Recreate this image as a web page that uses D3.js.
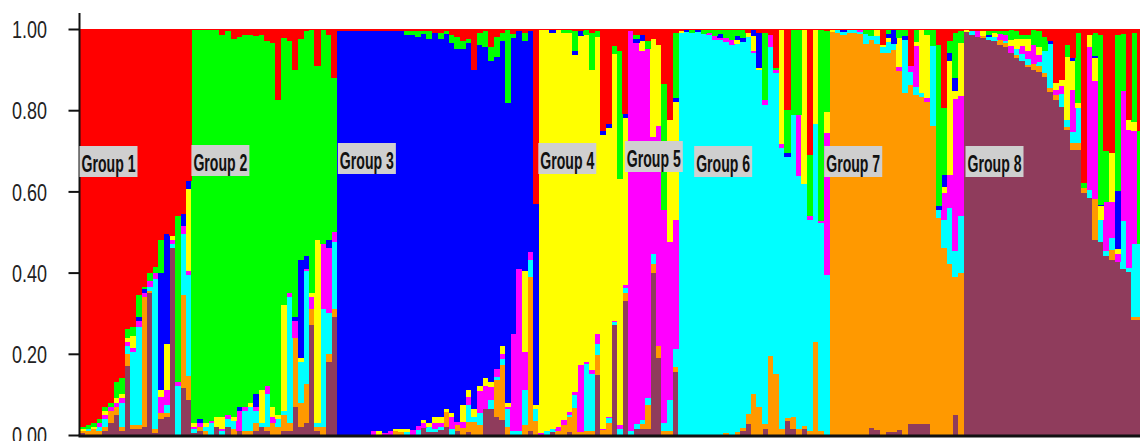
<!DOCTYPE html>
<html>
<head>
<meta charset="utf-8">
<script src="https://cdn.jsdelivr.net/npm/d3@7"></script>
<style>
  html, body { margin: 0; padding: 0; background: #fff; }
  svg { display: block; }
</style>
</head>
<body>
<div id="chart"></div>
<script>
// groups of individuals, left to right
const groupNames = ["Group 1", "Group 2", "Group 3", "Group 4", "Group 5", "Group 6", "Group 7", "Group 8"];
const groupSizes = [20, 26, 36, 16, 9, 27, 24, 32];
const yTicks = [0, 0.2, 0.4, 0.6, 0.8, 1.0];

// membership (%) of every individual in each cluster, one line per group
const red = [
  98,97.5,97,96,93,92,87,86,74,73.5,65.5,63.5,60,58.5,52,50.5,51,46,45.5,37.5,
  0.3,0.3,0.3,0.3,0.3,1.5,0.5,2.5,2,1.5,1.5,1.8,1.5,3,3.5,17.5,2.2,3,10,2.5,0.5,0.3,9,0.3,1.5,12,
  0.5,0.5,0.5,0.5,0.5,0.5,0.5,0.5,0.5,0.5,0.5,0.5,0.5,0.5,0.5,0.5,0.5,1,1,0.5,1.5,2,3,2.5,10,1,0.5,4.5,2,1,0.3,1.2,0.5,1,0.5,43,
  0.3,0.3,0.3,0.3,0.3,0.3,0.5,0.5,0.3,1,0.5,25,23.5,4.2,5.5,21,
  0.5,1.5,1.5,3,2.5,4,13.6,22.5,1,
  0.5,0.3,0.3,0.3,0.3,0.3,0.3,0.3,0.3,0.3,0.3,0.3,1,0.3,1,1,1.5,9.5,0.3,20,0.3,0.3,0.3,31,0.3,0.3,0.5,
  0.3,0.3,0.3,0.3,0.3,0.3,0.3,0.3,0.3,4,0.3,0.3,0.3,0.3,9,0.3,0.3,0.3,0.3,4,19.5,3,1,0.5,
  0.3,0.5,0.5,0.5,0.5,0.5,0.5,0.5,0.3,0.5,1.5,1.5,0.3,0.5,2,3,13.4,12.6,4,7.2,1,38,1.5,1,1.5,30,30.6,1.5,1.2,22.4,1,25
];
const green = [
  0.5,1,1,1,1,1,4,4,2,2,5.5,0.5,2,1.5,8,0,0,41,0,0,
  96.7,95.7,96.7,96.2,95.2,94,94.5,93,91,91.5,90.5,88.2,87.5,85,89.5,77.5,65.8,62,61,54.5,55.5,64.7,43,52.7,50.5,38,
  0,0,0,0,0,0,0,0,0,0,0,0,1,1,1.5,0.8,2,0,1.5,0.8,2,3,2,1,0,3,4,3.5,5,2,18,1,0,2,0,0,
  0,0,0,0,0.8,0.8,5,0,1.2,9,1.5,0,0,2,31.5,0,
  0,1,0,2,0,0,31,0,16,
  0,0,0.8,0,1,0.8,1.5,1,2,2.5,1.5,2,0,0,0,16.5,0,0.5,0,10.5,21,21,0,15,0,47,20,
  0,0,0,0,0,0,1,1.5,0,0,1,0,2,1.5,0,3,0,1.2,4,39.5,16.5,3,11,3,
  0,0,0,0,1,0.5,0.7,1,2.5,2,1,1,3.7,4,3.3,0,0,0,2.9,0,17.2,1.2,0,5.7,41.8,12.7,0,38.4,14,0,22,28
];
const blue = [
  0,0,0,0,0,0,0,0,0,0,1,1,0,0,29,27,0,0,3,2,
  0,1,0,0,0,0,0,0,1,0,0,3,0,0,0,0,0,0,1,24,3,0,0,0,2,0,
  99.5,99.5,99.5,99.5,99.5,99.5,98.5,98.5,99,98.5,98,98,97,97.3,95.7,95,94.5,94.5,93,92.2,91.2,91.7,87.6,85.5,83.5,84,81.5,79,76.7,75,73.9,72.8,58.5,56.5,54.5,49.5,
  0,0,0.6,0,0,0,0.8,1.2,0,0,0,1,1,0,0,1,
  0,1,1.5,0,0,0,0,0,1,
  0,0.5,0,0.5,0,0,0,1,0,0,1,1,0,1.5,8.5,0,0,0,0,1,0,0,0,0,0,0,0,
  0,0,0.5,0,0,0,0,0,0,0,0.8,3.3,0,1,0,0,0,0,0,1,2.9,2,3.3,0,
  0,0,0,0,0.4,0,0,0,0,0,0,0,0,0,0,0.8,0,0,0,0.8,0,0,0,0.4,0.4,0,0,14.4,0,0,0,0
];
const yellow = [
  0.5,0,0.5,0,1,0,1,1,1,3,0,0,0,0,1.6,11.5,1,0,0,20,
  1,0,1,0,2.5,3,0,1,0,0,1,0,8,0,2.5,1,26,0,0,1,0,1,45,0,0,0,
  0,0,0,0,0,0,0,1,0,0,0.5,0.7,0.7,0,0,0.8,1,1.5,1.5,0.8,0.8,0,4.1,1.6,2,1.2,2,1.2,0,2,0.8,0,0,20,0,1,
  99.2,98.7,97.5,97.7,95.2,93.2,83,81,80.5,74,73.2,72.4,71,65.6,60.6,41,
  0,0,2.5,0,24,20,0,30,29,
  0.5,0,0,0,0,0,0,0,0,0,0.8,0,1,3.5,0.5,0,0,0,28,0,0,0,38,0,23,0,5,
  0.5,0,0,0,0,0,0,0,1.5,0.5,1.2,0,7,0,0,1,15.5,15.5,0,0,1.6,28,2,13,
  0.4,0,0,1.3,0,1,0,0,1.5,2.5,1.7,3,0,2,0,0,1.6,1.5,15.6,7,1.2,0,2.9,5.7,3.3,0,11.9,1.2,0,2.5,2,0
];
const magenta = [
  0,0,0,1,1,1,1,1,1,1,1.5,1,1.5,1.5,4,3.5,1,1,2,1,
  0.5,1,0,0.5,0,0.5,1,0,5,1,0,1,0,2,1.5,0,0,1,4,0,0.5,3,0,16,16,2.5,
  0,0,0,0,0,0,1,0,0.5,1,0,0,0,1.2,1.1,1.2,0,1.4,1,0,2.9,0.8,1.6,2,0,5.3,5.7,3.3,2,1.2,0.5,24,40,9.5,2,0,
  0.5,0,0,1,1.2,0.8,0.8,16.5,0.5,1,2.5,0.4,0.4,0.4,0.8,0.8,
  98.5,93.7,90.7,85.9,29,54,52.4,39,31.7,
  0,0,0,0,0,0.5,0.8,0.5,1,1.2,0,0,0,0.5,0,1.2,3,0.8,1,0,0,15,0,1,0,0.5,35,
  0,0,0,0,0,0.5,0,0,0,0,0,0,1,0,1.5,10,0,1,0,0,6.5,8,37.5,29.5,
  0,0,1.4,0,0,0,1.5,1.5,1.5,0,2,2,4.5,1.7,0,0,1.2,2,0,10.3,0,0,35.3,29,0,11.9,9,1.8,32,34,28,0
];
const cyan = [
  0,0.5,0,1,2,0,0,6,2,18,24,0,1,37,0,2,1,12,15,25,
  1,0,1,3,0,1,2,2,0,5,6,3,1,8,0,2,1,31,0,10,28,0,1,29,10,16.5,
  0,0,0,0,0,0,0,0,0,0,0,0,0.8,0,1.2,0,1.2,0.8,0.8,0,1.6,0,0,4.1,1.2,3,0,2,0.8,1.6,4.5,1,1,8.5,4,3,
  0,1,0.8,0,0,0.5,3.3,0,16.5,14,2.5,0,1.2,0.8,1.6,1.2,
  1,1.2,1,1.6,2.5,0,2,7.5,4.5,
  99,99.2,98.9,99.2,98.7,98.4,97.4,97.2,96.2,96,95.7,94.9,92.9,84.2,83,78.7,76,74.2,69.2,64.2,74.2,62.3,59.4,52,53.7,51.2,39.5,
  0,0.8,0.8,0.8,0.6,0.5,2.5,0.8,2,1.5,2.5,1.5,0,13,3.3,2,1,0,19.5,2,7,14,6.2,14,
  0,1,0,0,0.8,1,0,0.5,0,1.3,1.8,1.3,0,1,5.6,10.8,0,3,1.6,2.9,8.6,0,2,0,5.4,1.4,2.9,0,11.8,0.9,18,18
];
const orange = [
  0.5,1,1.5,1,1,3,2,1,3,1,1,32,0.5,1,1.4,1,0,0,23,6,
  0,1,1,0,0,0,0,1.5,0,1,1,2,0,1,3,2,4,2,17,6,9.5,4,1,2,2,2,
  0,0,0,0,0,0,0,0,0,0,1,0.8,0,0,0,0,0,0,0,3.7,0,1.6,1.7,2.5,3.3,2.5,0,0,9,13.5,2,0,0,2.5,38,3.5,
  0,0,0,1,2.5,3.6,6.6,0.8,1,1,5,1.2,2.9,0,0,2,
  0,0,1.2,6,2,3,1,1,1.2,
  0,0,0,0,0,0,0,0,0.5,0,0.7,0.8,2.5,10,7,1.2,19.5,15,1.5,0.8,3,1.4,0.8,1,23,1,0,
  99.2,98.9,98.4,98.9,99.1,98.7,96.2,95.6,95,94,93.4,94.1,88.5,84.2,83.6,81.1,80.6,79.4,76.2,53.5,46,42,34,40,
  0,0,0,0.5,0,0,1.2,0.85,0.2,0.9,0,0.5,1.6,1.3,0.8,0.8,1.3,0,0.8,1.6,1.8,1.3,0,10.2,0,0,2.5,0,0,0,0.7,0.7
];
const brown = [
  0.5,0,0,0,1,3,5,1,17,1.5,1.5,2,35,0.5,4,4.5,46,0,11.5,8.5,
  0.5,1,0,0,2,0,2,0,1,0,0,1,2,1,0,0,1,1,7,2,3,27,1,0,18,29,
  0,0,0,0,0,0,0,0,0,0,0,0,0,0,0,1.7,0.8,0.8,1.2,2,0,0.9,0,0.8,0,0,6.3,6.5,4.5,3.7,0,0,0,0,1,0,
  0,0,0.8,0,0,0.8,0,0,0,0,14.8,0,0,27,0,33,
  0,1.6,1.6,1.5,40,19,0,0,15.6,
  0,0,0,0,0,0,0,0,0,0,0,1,2.6,0,0,1.4,0,0,0,3.5,1.5,0,1.5,0,0,0,0,
  0,0,0,0,0,0,0,1.8,1.2,0,0.8,0.8,1.2,0,2.6,2.6,2.6,2.6,0,0,0,0,5,0,
  99.3,98.5,98.1,97.7,97.3,97,96.1,95.65,94,92.8,92,90.7,89.9,89.5,88.3,84.6,82.5,80.9,75.1,70.2,70.2,59.5,58.3,48,47.6,44,43.1,42.7,41,40.2,28.3,28.3
];

const series = { red, green, blue, yellow, magenta, cyan, orange, brown };
const colors = {
  red: "#ff0000", green: "#00ff00", blue: "#0000ff", yellow: "#ffff00",
  magenta: "#ff00ff", cyan: "#00ffff", orange: "#ff9900", brown: "#8f3c5c"
};
// stacked bottom to top
const stackOrder = ["brown", "orange", "cyan", "magenta", "yellow", "blue", "green", "red"];

const n = d3.sum(groupSizes);
Object.entries(series).forEach(([k, v]) => {
  if (v.length !== n) console.error(k, v.length, "!=", n);
});

const width = 1140;
const height = 441;
const left = 79.5;
const barW = 5.595;
const narrowFont = "'Liberation Sans Narrow', 'Arial Narrow', 'Liberation Sans', Arial, sans-serif";

// squeeze a text horizontally so it is `w` pixels wide, anchored at its start
function squeeze(sel, w) {
  sel.each(function () {
    const len = this.getComputedTextLength();
    if (!len) return;
    const t = d3.select(this);
    const x0 = +t.attr("x") || 0;
    t.attr("transform", `translate(${x0},0) scale(${w / len},1) translate(${-x0},0)`);
  });
}

const rows = d3.range(n).map(i => {
  const r = { id: i };
  stackOrder.forEach(k => { r[k] = series[k][i]; });
  return r;
});

const stacked = d3.stack()
  .keys(stackOrder)
  .offset(d3.stackOffsetExpand)(rows);

const x = d3.scaleBand()
  .domain(d3.range(n))
  .range([left, left + n * barW])
  .paddingInner(0)
  .paddingOuter(0);

const y = d3.scaleLinear().domain([0, 1]).range([435, 29]);

const svg = d3.select("#chart")
  .append("svg")
  .attr("width", width)
  .attr("height", height);

svg.append("g")
  .attr("shape-rendering", "crispEdges")
  .selectAll("g")
  .data(stacked)
  .join("g")
  .attr("fill", d => colors[d.key])
  .selectAll("rect")
  .data(d => d)
  .join("rect")
  .attr("x", d => x(d.data.id))
  .attr("y", d => y(d[1]))
  .attr("width", x.bandwidth() + 0.5)
  .attr("height", d => Math.max(0, y(d[0]) - y(d[1])));

// y axis
const yAxis = svg.append("g")
  .attr("transform", `translate(${left},0)`)
  .call(d3.axisLeft(y)
    .tickValues(yTicks)
    .tickFormat(d3.format(".2f"))
    .tickSize(11)
    .tickPadding(21));

yAxis.select(".domain").remove();
yAxis.selectAll(".tick line")
  .attr("stroke", "#111")
  .attr("stroke-width", 2);
yAxis.selectAll(".tick text")
  .attr("fill", "#222")
  .attr("font-family", narrowFont)
  .attr("font-size", "24px")
  .attr("dy", "0.36em")
  .attr("text-anchor", "start")
  .attr("x", -67.5)
  .call(squeeze, 35);

svg.append("line")
  .attr("x1", left).attr("x2", left)
  .attr("y1", 13).attr("y2", 436)
  .attr("stroke", "#111")
  .attr("stroke-width", 2);

svg.append("line")
  .attr("x1", left - 1).attr("x2", width)
  .attr("y1", 436).attr("y2", 436)
  .attr("stroke", "#111")
  .attr("stroke-width", 3);

// group labels
const starts = [0, ...d3.cumsum(groupSizes)].slice(0, groupSizes.length);
const labelShift = [0, 0, 1, 0, -3, 16, -5, 2];
const labelTop = [146, 145, 143, 143, 141, 146, 146, 146];

const labels = svg.append("g")
  .selectAll("g")
  .data(groupNames)
  .join("g")
  .attr("transform", (d, i) => `translate(${x(starts[i]) + labelShift[i]},${labelTop[i]})`);

labels.append("rect")
  .attr("width", 58)
  .attr("height", 31)
  .attr("fill", "#cfcfcf");

labels.append("text")
  .attr("x", 2)
  .attr("y", 26)
  .attr("font-family", narrowFont)
  .attr("font-weight", "bold")
  .attr("font-size", "23px")
  .attr("fill", "#111")
  .text(d => d)
  .call(squeeze, 54);
</script>
</body>
</html>
